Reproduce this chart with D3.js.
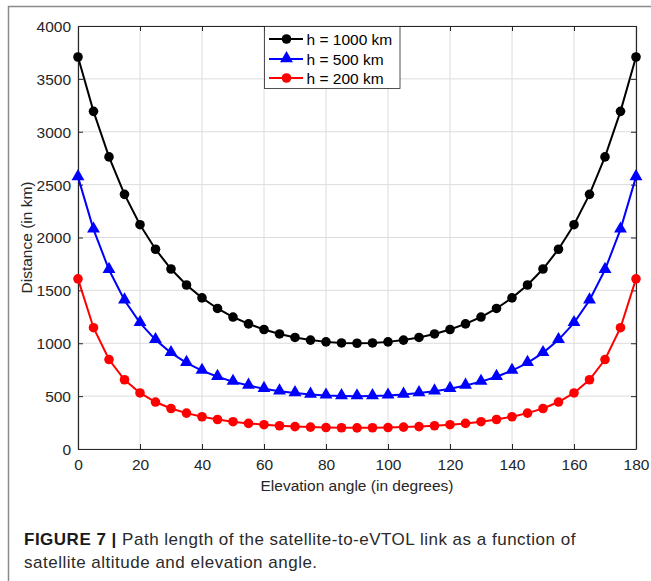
<!DOCTYPE html>
<html><head><meta charset="utf-8">
<script src="https://cdn.jsdelivr.net/npm/d3@7"></script>
<style>
body{margin:0;background:#fff;}
svg{display:block;font-family:"Liberation Sans",Arial,Helvetica,sans-serif;}
</style></head>
<body><svg id="c" width="651" height="581"></svg>
<script>
const angles = d3.range(0, 181, 5);
const h1000 = [3707,3193,2762,2408,2121,1889,1702,1551,1429,1329,1248,1183,1130,1088,1055,1030,1013,1003,1000,1003,1013,1030,1055,1088,1130,1183,1248,1329,1429,1551,1702,1889,2121,2408,2762,3193,3707];
const h500 = [2573,2077,1695,1407,1193,1032,909,815,741,683,637,600,570,547,530,516,507,502,500,502,507,516,530,547,570,600,637,683,741,815,909,1032,1193,1407,1695,2077,2573];
const h200 = [1609,1147,846,655,530,444,383,339,305,279,258,242,230,220,212,207,203,201,200,201,203,207,212,220,230,242,258,279,305,339,383,444,530,655,846,1147,1609];
const seriesNames = ["h = 1000 km","h = 500 km","h = 200 km"];
const seriesColors = ["#000000","#0000ff","#ff0000"];
const seriesMarkers = ["circle","triangle","circle"];
const xTicks = [0,20,40,60,80,100,120,140,160,180];
const yTicks = [0,500,1000,1500,2000,2500,3000,3500,4000];
const series = [h1000,h500,h200];

const svg = d3.select("#c");
const L=78, R=636, T=26, B=449;
const x = d3.scaleLinear().domain([0,180]).range([L,R]);
const y = d3.scaleLinear().domain([0,4000]).range([B,T]);
const axCol="#262626";
const fmt = d3.format("d");

// figure frame
svg.append("path").attr("d","M8.5,581 L8.5,6.5 L651,6.5").attr("fill","none").attr("stroke","#8a8a8a").attr("stroke-width",1.5);

// grid
const g = svg.append("g");
g.selectAll(".vg").data(xTicks).join("line").attr("x1",d=>x(d)).attr("x2",d=>x(d)).attr("y1",T).attr("y2",B).attr("stroke","#dcdcdc").attr("stroke-width",1);
g.selectAll(".hg").data(yTicks).join("line").attr("y1",d=>y(d)).attr("y2",d=>y(d)).attr("x1",L).attr("x2",R).attr("stroke","#dcdcdc").attr("stroke-width",1);

// axes
const fs=15.5;
const xa = svg.append("g").attr("transform",`translate(0,${B})`).call(d3.axisBottom(x).tickValues(xTicks).tickFormat(fmt).tickSizeInner(-5).tickSizeOuter(0).tickPadding(10));
const xt = svg.append("g").attr("transform",`translate(0,${T})`).call(d3.axisTop(x).tickValues(xTicks).tickSizeInner(-5).tickSizeOuter(0).tickFormat(""));
const ya = svg.append("g").attr("transform",`translate(${L},0)`).call(d3.axisLeft(y).tickValues(yTicks).tickFormat(fmt).tickSizeInner(-5).tickSizeOuter(0).tickPadding(7));
const yr = svg.append("g").attr("transform",`translate(${R},0)`).call(d3.axisRight(y).tickValues(yTicks).tickSizeInner(-5).tickSizeOuter(0).tickFormat(""));
[xa,xt,ya,yr].forEach(a=>{a.selectAll("path").attr("stroke",axCol).attr("stroke-width",1.2);a.selectAll("line").attr("stroke",axCol).attr("stroke-width",1);a.selectAll("text").attr("fill",axCol).style("font-size",fs+"px").attr("font-family","Liberation Sans, Arial, sans-serif");});
ya.selectAll("text").attr("dy","0.35em");
xa.selectAll("text").attr("dy","0.72em");

// axis titles
svg.append("text").attr("x",(L+R)/2).attr("y",491).attr("text-anchor","middle").attr("fill",axCol).style("font-size",fs+"px").text("Elevation angle (in degrees)");
svg.append("text").attr("transform",`translate(32,${(T+B)/2}) rotate(-90)`).attr("text-anchor","middle").attr("fill",axCol).style("font-size",fs+"px").text("Distance (in km)");

// data
const line = d3.line().x((d,i)=>x(angles[i])).y(d=>y(d));
const tri = d3.symbol().type(d3.symbolTriangle).size(72);
function marker(sel, type, color, cx, cy){
  if(type==="circle") sel.append("circle").attr("cx",cx).attr("cy",cy).attr("r",4.8).attr("fill",color);
  else sel.append("path").attr("d",tri()).attr("transform",`translate(${cx},${cy-0.5})`).attr("fill",color);
}
series.forEach((s,k)=>{
  const gg = svg.append("g");
  gg.append("path").datum(s).attr("d",line).attr("fill","none").attr("stroke",seriesColors[k]).attr("stroke-width",2);
  s.forEach((v,i)=>marker(gg, seriesMarkers[k], seriesColors[k], x(angles[i]), y(v)));
});

// legend
const lg = svg.append("g");
lg.append("rect").attr("x",264.5).attr("y",T+0.5).attr("width",135.5).attr("height",62).attr("fill","#fff").attr("stroke","#262626").attr("stroke-width",0.8);
const rowsY=[39,59,78];
seriesNames.forEach((n,k)=>{
  lg.append("line").attr("x1",269).attr("x2",303).attr("y1",rowsY[k]).attr("y2",rowsY[k]).attr("stroke",seriesColors[k]).attr("stroke-width",2);
  marker(lg, seriesMarkers[k], seriesColors[k], 286.5, rowsY[k]);
  lg.append("text").attr("x",306.5).attr("y",rowsY[k]).attr("dy","0.36em").attr("fill","#000").style("font-size",fs+"px").text(n);
});

// caption
const cap = svg.append("text").attr("x",24).attr("y",545).attr("fill","#2a2a2a").style("font-size","17px").style("letter-spacing","0.5px");
cap.append("tspan").attr("font-weight","bold").attr("fill","#1a1a1a").text("FIGURE 7 | ");
cap.append("tspan").text("Path length of the satellite-to-eVTOL link as a function of");
svg.append("text").attr("x",24).attr("y",568).attr("fill","#2a2a2a").style("font-size","17px").style("letter-spacing","0.5px").text("satellite altitude and elevation angle.");
</script></body></html>
